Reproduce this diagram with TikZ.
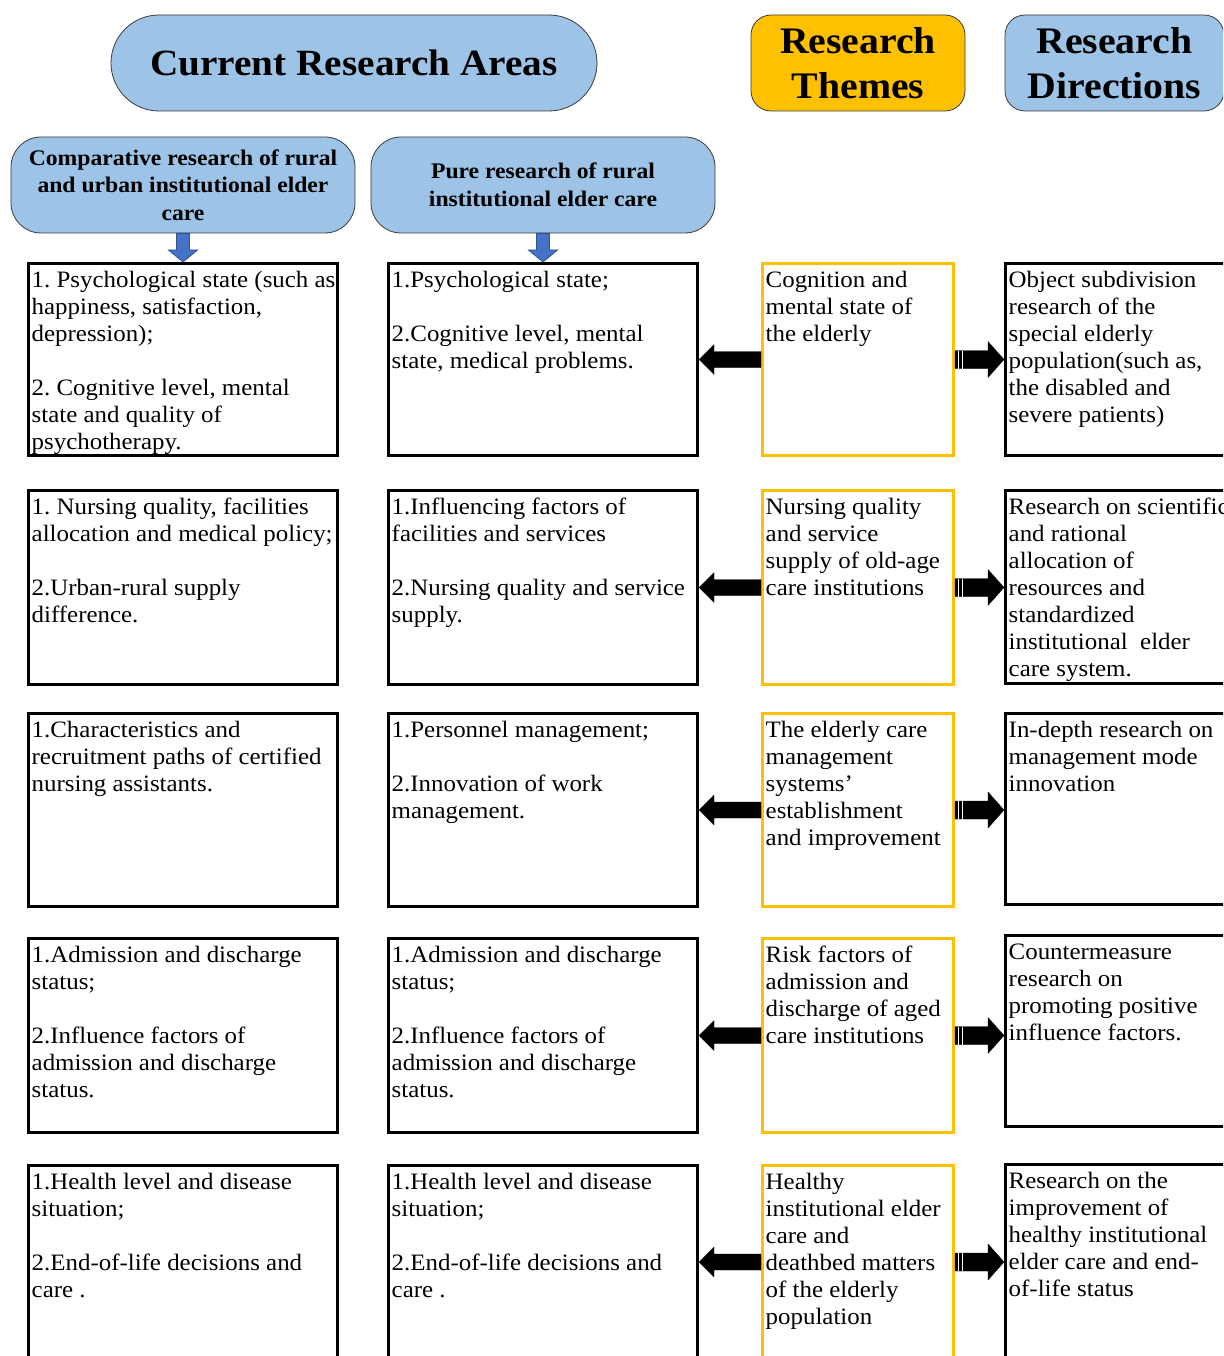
\documentclass[tikz,border=0pt]{standalone}
\usepackage{fontspec}
\setmainfont[FakeStretch=1.06]{Liberation Serif}
\usetikzlibrary{calc}
\definecolor{hblue}{HTML}{9DC3E6}
\definecolor{hyellow}{HTML}{FFC000}
\definecolor{ablue}{HTML}{4472C4}
\definecolor{ablueedge}{HTML}{2F528F}
\definecolor{hedge}{HTML}{3A3A3A}
\frenchspacing
% block arrow: style, start, end, half shaft, half head, head length
\newcommand{\blockarr}[6]{%
  \path ($(#3)!#6!(#2)$) coordinate (bah);
  \filldraw[#1] ($(#2)!#4!90:(#3)$) -- ($(bah)!#4!-90:(#2)$) -- ($(bah)!#5!-90:(#2)$) -- (#3)
    -- ($(bah)!#5!90:(#2)$) -- ($(bah)!#4!90:(#2)$) -- ($(#2)!#4!-90:(#3)$) -- cycle;}
\begin{document}
\begin{tikzpicture}[x=1pt,y=-1pt,
  bigtitle/.style={draw=hedge, line width=0.8pt, fill=hblue, rounded corners=48pt,
    minimum width=486pt, minimum height=96pt, inner sep=0pt,
    font=\bfseries\fontsize{37}{45}\selectfont},
  sidetitle/.style={draw=hedge, line width=0.8pt, rounded corners=20pt,
    minimum height=96pt, inner sep=0pt, align=center,
    font=\bfseries\fontsize{37.5}{45}\selectfont},
  subtitle/.style={draw=hedge, line width=0.8pt, fill=hblue, rounded corners=30pt,
    minimum width=344pt, minimum height=96pt, inner sep=0pt, align=center,
    font=\bfseries\fontsize{22.3}{27.5}\selectfont},
  cell/.style={draw=black, line width=3pt, inner sep=0pt},
  theme/.style={draw=hyellow, line width=3pt, inner sep=0pt},
  txt/.style={anchor=north west, inner sep=0pt, align=left,
    font=\fontsize{23.5}{27}\selectfont},
  downarr/.style={fill=ablue, draw=ablueedge, line width=0.8pt},
  blackarr/.style={fill=black, draw=black, line width=0.3pt}
]
\useasboundingbox (0,0) rectangle (1223,1356);
\clip (0,0) rectangle (1223,1356);
\fill[white] (0,0) rectangle (1223,1356);

% headers
\node[bigtitle] (cra) at (354,63) {Current Research Areas};
\node[sidetitle, fill=hyellow, minimum width=214pt] (rt) at (858,63) {Research\\Themes};
\node[sidetitle, fill=hblue, minimum width=219pt] (rd) at (1114.5,63) {Research\\Directions};
\node[subtitle] (s1) at (183,185) {Comparative research of rural\\and urban institutional elder\\care};
\node[subtitle] (s2) at (543,185) {Pure research of rural\\institutional elder care};

% column 1
\node[cell, minimum width=309pt, minimum height=192pt] (a1) at (183,359.5) {};
\node[cell, minimum width=309pt, minimum height=194pt] (a2) at (183,587.5) {};
\node[cell, minimum width=309pt, minimum height=193pt] (a3) at (183,810) {};
\node[cell, minimum width=309pt, minimum height=194pt] (a4) at (183,1035.5) {};
\node[cell, minimum width=309pt, minimum height=193pt] (a5) at (183,1262) {};
% column 2
\node[cell, minimum width=309pt, minimum height=192pt] (b1) at (543,359.5) {};
\node[cell, minimum width=309pt, minimum height=194pt] (b2) at (543,587.5) {};
\node[cell, minimum width=309pt, minimum height=193pt] (b3) at (543,810) {};
\node[cell, minimum width=309pt, minimum height=194pt] (b4) at (543,1035.5) {};
\node[cell, minimum width=309pt, minimum height=193pt] (b5) at (543,1262) {};
% column 3 (themes)
\node[theme, minimum width=191pt, minimum height=192pt] (t1) at (858,359.5) {};
\node[theme, minimum width=191pt, minimum height=194pt] (t2) at (858,587.5) {};
\node[theme, minimum width=191pt, minimum height=193pt] (t3) at (858,810) {};
\node[theme, minimum width=191pt, minimum height=194pt] (t4) at (858,1035.5) {};
\node[theme, minimum width=191pt, minimum height=193pt] (t5) at (858,1262) {};
% column 4 (directions)
\node[cell, minimum width=250pt, minimum height=192pt] (d1) at (1130.5,359.5) {};
\node[cell, minimum width=250pt, minimum height=193pt] (d2) at (1130.5,587) {};
\node[cell, minimum width=250pt, minimum height=191pt] (d3) at (1130.5,809) {};
\node[cell, minimum width=250pt, minimum height=191pt] (d4) at (1130.5,1031) {};
\node[cell, minimum width=250pt, minimum height=194pt] (d5) at (1130.5,1261.5) {};

% texts column 1
\node[txt] (a1t) at ($(a1.north west)+(4.5,6.5)$) {\strut 1. Psychological state (such as\\happiness, satisfaction,\\depression);\\[27pt]2. Cognitive level, mental\\state and quality of\\psychotherapy.};
\node[txt] (a2t) at ($(a2.north west)+(4.5,6.5)$) {\strut 1. Nursing quality, facilities\\allocation and medical policy;\\[27pt]2.Urban-rural supply\\difference.};
\node[txt] (a3t) at ($(a3.north west)+(4.5,6.5)$) {\strut 1.Characteristics and\\recruitment paths of certified\\nursing assistants.};
\node[txt] (a4t) at ($(a4.north west)+(4.5,6.5)$) {\strut 1.Admission and discharge\\status;\\[27pt]2.Influence factors of\\admission and discharge\\status.};
\node[txt] (a5t) at ($(a5.north west)+(4.5,6.5)$) {\strut 1.Health level and disease\\situation;\\[27pt]2.End-of-life decisions and\\care .};
% texts column 2
\node[txt] (b1t) at ($(b1.north west)+(4.5,6.5)$) {\strut 1.Psychological state;\\[27pt]2.Cognitive level, mental\\state, medical problems.};
\node[txt] (b2t) at ($(b2.north west)+(4.5,6.5)$) {\strut 1.Influencing factors of\\facilities and services\\[27pt]2.Nursing quality and service\\supply.};
\node[txt] (b3t) at ($(b3.north west)+(4.5,6.5)$) {\strut 1.Personnel management;\\[27pt]2.Innovation of work\\management.};
\node[txt] (b4t) at ($(b4.north west)+(4.5,6.5)$) {\strut 1.Admission and discharge\\status;\\[27pt]2.Influence factors of\\admission and discharge\\status.};
\node[txt] (b5t) at ($(b5.north west)+(4.5,6.5)$) {\strut 1.Health level and disease\\situation;\\[27pt]2.End-of-life decisions and\\care .};
% texts column 3
\node[txt] (t1t) at ($(t1.north west)+(4.5,6.5)$) {\strut Cognition and\\mental state of\\the elderly};
\node[txt] (t2t) at ($(t2.north west)+(4.5,6.5)$) {\strut Nursing quality\\and service\\supply of old-age\\care institutions};
\node[txt] (t3t) at ($(t3.north west)+(4.5,6.5)$) {\strut The elderly care\\management\\systems’\\establishment\\and improvement};
\node[txt] (t4t) at ($(t4.north west)+(4.5,6.5)$) {\strut Risk factors of\\admission and\\discharge of aged\\care institutions};
\node[txt] (t5t) at ($(t5.north west)+(4.5,6.5)$) {\strut Healthy\\institutional elder\\care and\\deathbed matters\\of the elderly\\population};
% texts column 4
\node[txt] (d1t) at ($(d1.north west)+(4.5,6.5)$) {\strut Object subdivision\\research of the\\special elderly\\population(such as,\\the disabled and\\severe patients)};
\node[txt] (d2t) at ($(d2.north west)+(4.5,6.5)$) {\strut Research on scientific\\and rational\\allocation of\\resources and\\standardized\\institutional~ elder\\care system.};
\node[txt] (d3t) at ($(d3.north west)+(4.5,6.5)$) {\strut In-depth research on\\management mode\\innovation};
\node[txt] (d4t) at ($(d4.north west)+(4.5,6.5)$) {\strut Countermeasure\\research on\\promoting positive\\influence factors.};
\node[txt] (d5t) at ($(d5.north west)+(4.5,6.5)$) {\strut Research on the\\improvement of\\healthy institutional\\elder care and end-\\of-life status};

% blue down arrows
\blockarr{downarr}{s1.south}{a1.north}{6.5pt}{14.5pt}{12pt}
\blockarr{downarr}{s2.south}{b1.north}{6.5pt}{14.5pt}{12pt}

% black arrows
\foreach \i in {1,...,5}{
  \coordinate (L\i) at (t\i.west -| b\i.east);
  \coordinate (R\i) at (t\i.east -| d\i.west);
  \blockarr{blackarr}{t\i.west}{L\i}{8pt}{15pt}{15pt}
  \blockarr{blackarr}{t\i.east}{R\i}{9pt}{18pt}{16pt}
  \draw[white, line width=0.8pt] ($(t\i.east)+(3.5,-9)$) -- ($(t\i.east)+(3.5,9)$);
  \draw[white, line width=0.8pt] ($(t\i.east)+(7.5,-9)$) -- ($(t\i.east)+(7.5,9)$);
}
\end{tikzpicture}
\end{document}
